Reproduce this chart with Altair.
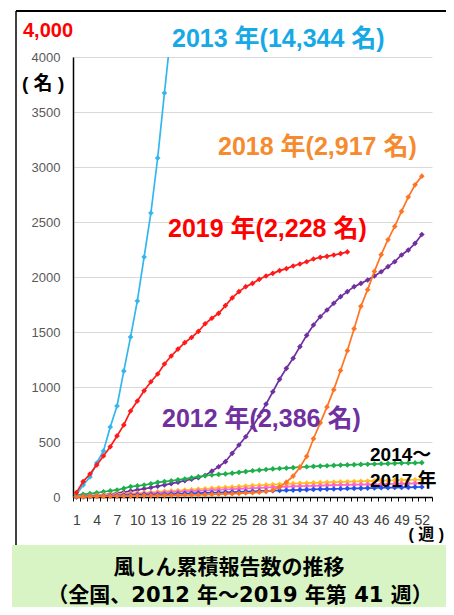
import altair as alt
import pandas as pd

# ---- data (cumulative reported rubella cases by week) ----
y2012 = [3, 6, 10, 15, 20, 27, 35, 44, 54, 64, 75, 86, 98, 110, 122, 135, 148, 161, 175, 195,
         235, 275, 321, 397, 473, 548, 639, 736, 845, 957, 1070, 1170, 1261, 1367, 1470, 1564,
         1639, 1700, 1761, 1821, 1867, 1912, 1942, 1973, 2009, 2048, 2094, 2139, 2200, 2245, 2306, 2386]
y2013 = [20, 110, 182, 309, 418, 636, 827, 1145, 1455, 1782, 2182, 2582, 3082, 3673, 4250]
y2014 = [18, 24, 30, 38, 48, 56, 64, 78, 94, 101, 109, 120, 133, 140, 148, 156, 164, 175, 185, 193,
         200, 205, 210, 217, 224, 231, 239, 244, 250, 255, 259, 263, 267, 272, 275, 278, 281, 284,
         287, 290, 292, 294, 296, 298, 300, 302, 304, 306, 308, 309, 310, 312]
y2015 = [3, 7, 11, 15, 19, 22, 26, 29, 33, 36, 40, 43, 47, 51, 55, 59, 63, 67, 71, 75, 79, 83, 87,
         91, 95, 99, 104, 107, 110, 113, 116, 119, 122, 125, 127, 129, 131, 133, 135, 137, 139, 141,
         143, 145, 147, 149, 150, 152, 154, 155, 157, 158]
y2016 = [2, 5, 8, 11, 14, 17, 20, 23, 26, 29, 32, 35, 38, 41, 44, 47, 50, 53, 56, 59, 62, 65, 68,
         71, 74, 77, 80, 83, 86, 89, 92, 94, 96, 98, 100, 102, 104, 106, 108, 110, 111, 112, 113,
         114, 115, 116, 118, 119, 121, 122, 124, 125]
y2017 = [1, 3, 5, 7, 9, 11, 13, 15, 17, 19, 21, 22, 23, 25, 27, 29, 31, 33, 35, 37, 39, 41, 43, 45,
         47, 49, 51, 53, 55, 57, 59, 61, 63, 65, 67, 69, 71, 72, 73, 75, 77, 78, 79, 81, 82, 84, 85,
         86, 87, 88, 90, 91]
y2018 = [2, 3, 4, 5, 6, 7, 8, 9, 10, 11, 12, 13, 14, 15, 16, 17, 18, 19, 20, 22, 24, 26, 28, 30,
         33, 36, 39, 44, 50, 62, 90, 135, 190, 270, 370, 530, 674, 819, 976, 1150, 1330, 1530,
         1733, 1885, 2051, 2203, 2339, 2460, 2596, 2727, 2838, 2917]
y2019 = [40, 140, 209, 291, 373, 457, 555, 655, 782, 873, 966, 1048, 1118, 1209, 1282, 1345, 1403,
         1450, 1505, 1575, 1625, 1670, 1740, 1810, 1867, 1912, 1942, 1979, 2009, 2033, 2058, 2076,
         2100, 2118, 2139, 2164, 2179, 2188, 2200, 2212, 2228]

series_names = ["2012", "2013", "2014", "2015", "2016", "2017", "2018", "2019"]
series_values = [y2012, y2013, y2014, y2015, y2016, y2017, y2018, y2019]
series_colors = ["#7030A0", "#33B6EE", "#1DAF4B", "#FFC01F", "#FF66CC", "#2253E6", "#FF7422", "#FF1A1A"]

y_ticks = [0, 500, 1000, 1500, 2000, 2500, 3000, 3500, 4000]
x_boundaries = [i + 0.5 for i in range(54)]

FONT = "Liberation Sans, Noto Sans CJK JP"

xaxis = alt.Axis(values=x_boundaries,
                 labelExpr="(datum.value - 0.5) % 3 == 1 ? '' + (datum.value - 0.5) : ''",
                 labelOffset=-3.4, tickSize=4, tickColor="black", tickWidth=1,
                 domainColor="black", domainWidth=1.5,
                 labelFont="Liberation Sans", labelFontSize=14, labelColor="#404040",
                 labelPadding=12, grid=False, title=None, labelOverlap=False,
                 labelFlush=False, labelBound=False)
yaxis = alt.Axis(values=y_ticks, format="d", grid=True, gridColor="#D9D9D9", gridWidth=1,
                 ticks=False, domainColor="black", domainWidth=1.5, labelFont="Liberation Sans",
                 labelFontSize=13, labelColor="#595959", labelPadding=13, title=None)

xenc = alt.X("week:Q", scale=alt.Scale(domain=[0.5, 53.5], nice=False, zero=False), axis=xaxis)
yenc = alt.Y("value:Q", scale=alt.Scale(domain=[0, 4000], nice=False), axis=yaxis)

one = pd.DataFrame({"a": [0]})

layers = []
# background caption box and frame
layers.append(alt.Chart(one).mark_rect(color="#D8F4C4").encode(
    x=alt.value(-61), x2=alt.value(373), y=alt.value(488), y2=alt.value(550)))
layers.append(alt.Chart(one).mark_rule(color="black", strokeWidth=1.5).encode(
    x=alt.value(-57), y=alt.value(-46), y2=alt.value(488)))
layers.append(alt.Chart(one).mark_rule(color="black", strokeWidth=2).encode(
    x=alt.value(-57), x2=alt.value(373), y=alt.value(-46)))

for name, vals, col in zip(series_names, series_values, series_colors):
    df = pd.DataFrame({"week": list(range(1, len(vals) + 1)), "value": vals})
    clip = name == "2013"
    base = alt.Chart(df)
    layers.append(base.mark_line(color=col, strokeWidth=1.7, clip=clip).encode(x=xenc, y=yenc))
    layers.append(base.mark_point(shape="diamond", filled=True, size=32, color=col, opacity=1,
                                  clip=clip).encode(x=xenc, y=yenc))


def label(text, x, y, color, size, align="left", font=FONT):
    return alt.Chart(pd.DataFrame({"t": [text]})).mark_text(
        align=align, baseline="alphabetic", font=font, fontSize=size, fontWeight="bold",
        color=color).encode(x=alt.value(x), y=alt.value(y), text="t:N")


layers += [
    label("4,000", -50, -20, "#FF0000", 20),
    label("( 名 )", -51, 33, "black", 19),
    label("2013 年(14,344 名)", 99, -10, "#17A9E6", 25),
    label("2018 年(2,917 名)", 145, 98, "#F58B2E", 25),
    label("2019 年(2,228 名)", 95, 180, "#FF0000", 25),
    label("2012 年(2,386 名)", 89, 370, "#7030A0", 25),
    label("2014～", 297, 404, "black", 19),
    label("2017 年", 297, 430, "black", 19),
    label("( 週 )", 371, 483, "black", 16, align="right"),
    label("風しん累積報告数の推移", 156, 517, "black", 21, align="center",
          font="DejaVu Sans, Noto Sans CJK JP"),
    label("（全国、2012 年～2019 年第 41 週）", 167, 545, "black", 21, align="center",
          font="DejaVu Sans, Noto Sans CJK JP"),
]

chart = alt.layer(*layers).properties(
    width=359, height=440, autosize="none",
    padding={"left": 65, "top": 49, "right": 14, "bottom": 110},
    background="white",
).configure_view(stroke=None)

chart.save("out.html", embed_options={"renderer": "svg", "actions": False})
